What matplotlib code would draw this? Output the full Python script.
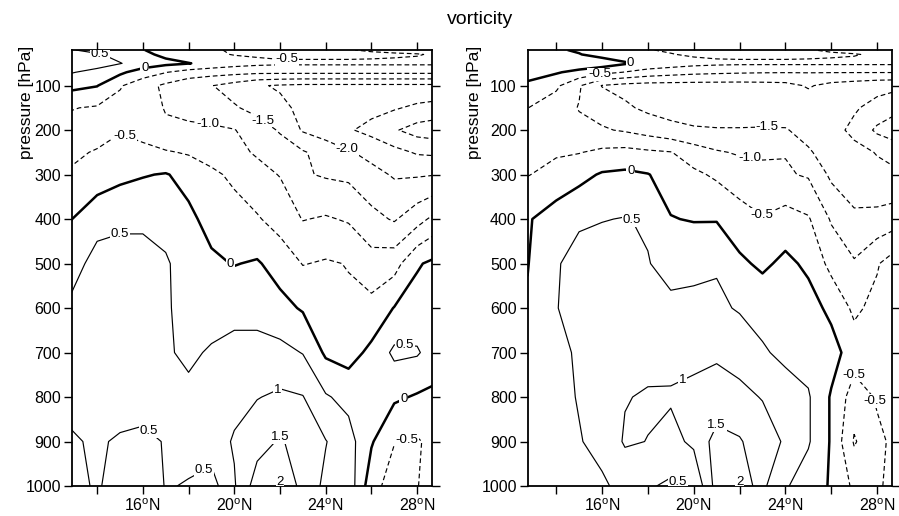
import numpy as np
import matplotlib
matplotlib.use("Agg")
import matplotlib.pyplot as plt

plt.rcParams['font.family'] = ['Liberation Sans', 'DejaVu Sans']
plt.rcParams['mathtext.fontset'] = 'custom'
plt.rcParams['mathtext.rm'] = 'Liberation Sans'

# grid: first column = value at the left frame edge
lats = [12.75, 14, 15, 16, 17, 18, 19, 20, 21, 22, 23, 24, 25, 26, 27, 28, 29]
plev = [20, 30, 50, 70, 100, 150, 200, 250, 300, 400, 500, 600, 700, 800, 900, 1000]

vort_left = [
    [0.55, 0.35, 0.2, 0.02, -0.2, -0.35, -0.45, -0.55, -0.6, -0.65, -0.65, -0.6, -0.52, -0.45, -0.4, -0.38, -0.38],
    [0.75, 0.55, 0.35, 0.1, -0.1, -0.3, -0.42, -0.52, -0.56, -0.6, -0.6, -0.6, -0.6, -0.58, -0.55, -0.52, -0.45],
    [0.85, 0.7, 0.52, 0.3, 0.12, 0.02, -0.15, -0.3, -0.38, -0.42, -0.42, -0.42, -0.42, -0.42, -0.42, -0.42, -0.42],
    [0.55, 0.35, 0.1, -0.25, -0.48, -0.7, -0.8, -0.85, -0.9, -0.9, -0.9, -0.9, -0.9, -0.9, -0.9, -0.9, -0.9],
    [0.15, 0.02, -0.45, -0.8, -1.1, -1.35, -1.48, -1.7, -1.95, -2.05, -2.1, -2.1, -2.1, -2.1, -2.1, -2.1, -2.1],
    [-0.47, -0.55, -0.7, -0.85, -1.02, -1.15, -1.3, -1.45, -1.65, -1.9, -2.1, -2.2, -2.3, -2.35, -2.45, -2.6, -2.7],
    [-0.65, -0.6, -0.52, -0.6, -0.95, -0.9, -0.9, -0.98, -1.25, -1.55, -2.05, -2.25, -2.45, -2.65, -2.95, -3.2, -3.3],
    [-0.55, -0.48, -0.4, -0.42, -0.45, -0.55, -0.7, -0.88, -1.05, -1.25, -1.45, -1.7, -1.95, -2.15, -2.35, -2.55, -2.6],
    [-0.48, -0.3, -0.12, -0.03, 0.03, -0.15, -0.4, -0.6, -0.85, -1.02, -1.45, -1.55, -1.6, -1.85, -2.05, -2.05, -2.0],
    [-0.05, 0.35, 0.4, 0.4, 0.35, 0.1, -0.15, -0.3, -0.45, -0.7, -1.02, -0.95, -1.05, -1.35, -1.55, -1.2, -0.75],
    [0.3, 0.65, 0.7, 0.7, 0.55, 0.3, 0.08, -0.02, 0.05, -0.2, -0.52, -0.45, -0.52, -0.8, -0.7, -0.05, 0.15],
    [0.55, 0.75, 0.75, 0.75, 0.55, 0.35, 0.3, 0.35, 0.3, 0.15, -0.05, -0.3, -0.42, -0.35, 0.02, 0.2, 0.25],
    [0.65, 0.75, 0.8, 0.75, 0.55, 0.42, 0.55, 0.65, 0.7, 0.65, 0.48, -0.08, -0.2, 0.12, 0.6, 0.55, 0.2],
    [0.6, 0.7, 0.7, 0.65, 0.55, 0.6, 0.7, 0.85, 0.98, 1.08, 1.02, 0.55, 0.35, 0.2, 0.08, -0.05, -0.1],
    [0.45, 0.55, 0.45, 0.42, 0.52, 0.6, 0.75, 1.05, 1.3, 1.55, 1.3, 1.02, 0.7, 0.05, -0.48, -0.55, -0.3],
    [0.35, 0.55, 0.3, 0.25, 0.52, 0.48, 0.3, 0.95, 1.75, 2.05, 1.3, 0.9, 0.8, -0.3, -0.75, -0.52, -0.2],
]

vort_right = [
    [0.15, 0.05, -0.05, -0.2, -0.3, -0.48, -0.55, -0.6, -0.62, -0.62, -0.6, -0.58, -0.52, -0.45, -0.4, -0.35, -0.35],
    [0.25, 0.12, 0.02, -0.15, -0.25, -0.4, -0.48, -0.56, -0.6, -0.6, -0.6, -0.6, -0.58, -0.55, -0.52, -0.45, -0.42],
    [0.45, 0.4, 0.35, 0.25, 0.05, -0.15, -0.25, -0.35, -0.4, -0.42, -0.42, -0.42, -0.42, -0.42, -0.42, -0.42, -0.42],
    [0.2, 0.05, -0.15, -0.35, -0.52, -0.7, -0.8, -0.88, -0.92, -0.95, -0.97, -0.98, -0.98, -0.98, -0.98, -0.98, -0.98],
    [-0.1, -0.4, -0.95, -1.52, -1.65, -1.7, -1.7, -1.7, -1.7, -1.7, -1.68, -1.65, -1.45, -1.65, -1.75, -1.85, -1.9],
    [-0.49, -0.8, -1.02, -1.2, -1.42, -1.6, -1.7, -1.72, -1.75, -1.75, -1.75, -1.75, -1.8, -1.85, -1.95, -2.15, -2.4],
    [-0.7, -0.8, -0.9, -0.95, -1.05, -1.2, -1.35, -1.45, -1.47, -1.47, -1.46, -1.47, -1.65, -1.85, -2.1, -2.6, -2.9],
    [-0.62, -0.55, -0.52, -0.4, -0.35, -0.42, -0.48, -0.75, -0.95, -1.05, -1.08, -1.02, -1.45, -1.7, -1.88, -2.02, -2.2],
    [-0.52, -0.35, -0.15, 0.05, 0.1, 0.02, -0.2, -0.4, -0.58, -0.75, -0.85, -0.95, -1.05, -1.6, -1.8, -1.9, -1.95],
    [-0.05, 0.25, 0.42, 0.48, 0.52, 0.45, 0.02, -0.03, -0.03, -0.3, -0.47, -0.3, -0.45, -1.05, -1.4, -1.35, -1.2],
    [-0.02, 0.45, 0.7, 0.75, 0.72, 0.52, 0.35, 0.4, 0.45, 0.1, -0.1, 0.12, -0.1, -0.65, -0.95, -0.55, -0.1],
    [0.05, 0.48, 0.7, 0.8, 0.8, 0.75, 0.6, 0.6, 0.6, 0.45, 0.35, 0.2, 0.2, -0.12, -0.6, -0.35, -0.15],
    [0.15, 0.4, 0.55, 0.7, 0.75, 0.8, 0.85, 0.9, 0.95, 0.85, 0.55, 0.4, 0.3, 0.2, -0.25, -0.35, -0.25],
    [0.2, 0.4, 0.52, 0.7, 0.97, 1.06, 1.05, 1.1, 1.15, 1.1, 0.98, 0.7, 0.55, -0.05, -0.75, -0.45, -0.3],
    [0.25, 0.4, 0.48, 0.6, 1.06, 0.99, 0.85, 1.1, 1.7, 1.55, 1.2, 0.95, 0.55, -0.05, -1.05, -0.6, -0.35],
    [0.3, 0.35, 0.4, 0.45, 0.6, 0.55, 0.42, 0.55, 1.7, 2.05, 1.1, 0.55, 0.25, -0.05, -0.6, -0.55, -0.35],
]

levels = [-3.0, -2.5, -2.0, -1.5, -1.0, -0.5, 0.0, 0.5, 1.0, 1.5, 2.0]
label_fmt = {-3.0: '-3.0', -2.5: '-2.5', -2.0: '-2.0', -1.5: '-1.5', -1.0: '-1.0', -0.5: '-0.5',
             0.0: '0', 0.5: '0.5', 1.0: '1', 1.5: '1.5', 2.0: '2'}

labels_left = [(14.1, 36), (16.1, 64), (22.3, 42), (18.9, 172), (21.2, 183), (15.2, 213),
               (24.8, 257), (15.0, 425), (19.7, 511), (27.5, 643), (21.9, 785), (27.4, 803),
               (16.2, 881), (27.5, 886), (21.9, 885), (18.4, 941), (21.9, 985)]
labels_right = [(17.4, 44), (15.9, 77), (23.2, 201), (22.4, 275), (17.3, 279), (23.0, 388),
                (17.4, 399), (27.6, 710), (19.6, 769), (27.5, 814), (20.8, 834), (21.9, 985),
                (19.4, 982)]


def draw(ax, z, xlim, label_pos, ylab_x):
    X, Y = np.meshgrid(lats, plev)
    Z = np.array(z)
    lw = [0.85 if l != 0 else 1.8 for l in levels]
    ls = [(0, (4, 2.5)) if l < 0 else 'solid' for l in levels]
    cs = ax.contour(X, Y, Z, levels=levels, colors='k', linewidths=lw, linestyles=ls)
    txts = ax.clabel(cs, fmt=label_fmt, fontsize=9.5, inline=False, manual=label_pos)
    for t in txts:
        t.set_rotation(0)
        t.set_bbox(dict(facecolor='white', edgecolor='none', pad=0.6))
    ax.set_xlim(*xlim)
    ax.set_ylim(1000, 20)
    ax.set_yticks(range(100, 1001, 100))
    ax.set_xticks([16, 20, 24, 28])
    ax.set_xticklabels([r'16$^\mathrm{o}$N', r'20$^\mathrm{o}$N', r'24$^\mathrm{o}$N', r'28$^\mathrm{o}$N'])
    ax.set_xticks([14, 18, 22, 26], minor=True)
    ax.tick_params(axis='both', which='both', direction='out', top=True, right=True,
                   length=6, width=1, labelsize=11.5, pad=2)
    ax.set_ylabel('pressure [hPa]', fontsize=12.5)
    ax.yaxis.set_label_coords(ylab_x, 0.881)
    for s in ax.spines.values():
        s.set_linewidth(1.3)


fig = plt.figure(figsize=(8.99, 5.16), dpi=100)
ax1 = fig.add_axes([0.0801, 0.0581, 0.4004, 0.845])
ax2 = fig.add_axes([0.5873, 0.0581, 0.4049, 0.845])
draw(ax1, vort_left, (12.9, 28.65), labels_left, -0.106)
draw(ax2, vort_right, (12.77, 28.65), labels_right, -0.126)
fig.text(0.534, 0.962, 'vorticity', ha='center', va='center', fontsize=14)
fig.savefig('out.png', dpi=100)
